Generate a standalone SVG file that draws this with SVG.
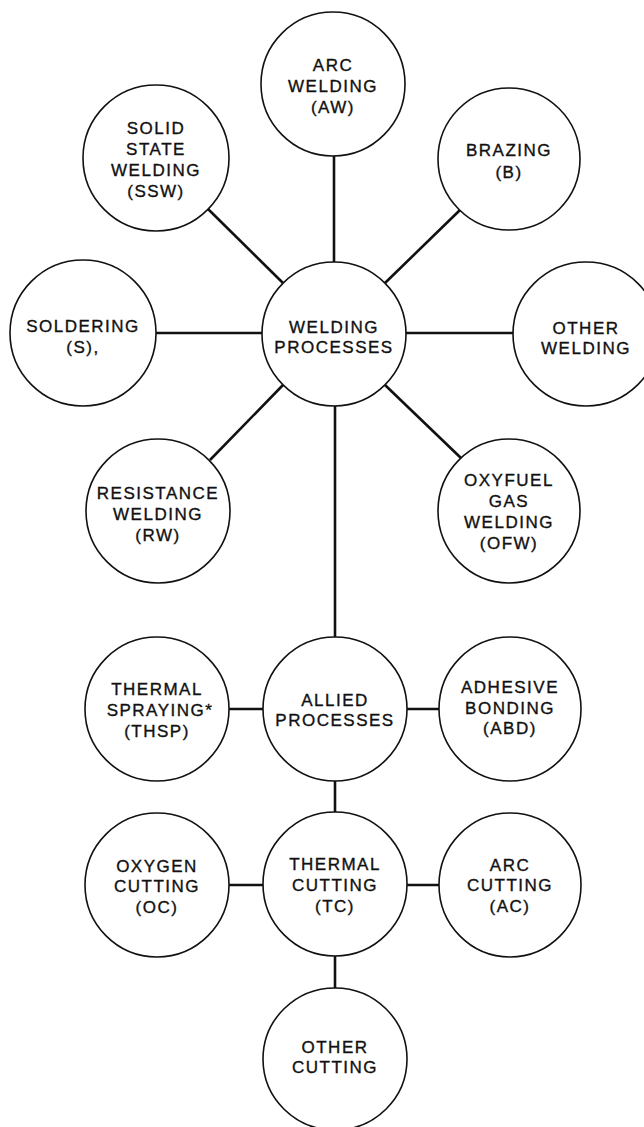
<svg xmlns="http://www.w3.org/2000/svg" width="644" height="1127" viewBox="0 0 644 1127">
<style>
.n ellipse{fill:#fff;stroke:#111;stroke-width:1.6}
.n text{font-family:"Liberation Sans",Arial,sans-serif;font-size:17px;letter-spacing:1.5px;text-anchor:middle;fill:#111;stroke:#111;stroke-width:0.35}
#connectors line{stroke:#111;stroke-width:2.6}
</style>
<rect width="644" height="1127" fill="#fff"/>
<g id="connectors">
<line x1="334" y1="155" x2="334" y2="262"/>
<line x1="207" y1="208" x2="283" y2="283"/>
<line x1="460" y1="210" x2="385" y2="283"/>
<line x1="156" y1="333" x2="262" y2="333"/>
<line x1="406" y1="333" x2="514" y2="333"/>
<line x1="210" y1="460" x2="283" y2="385"/>
<line x1="385" y1="385" x2="462" y2="459"/>
<line x1="335" y1="406" x2="335" y2="637"/>
<line x1="229" y1="709" x2="263" y2="709"/>
<line x1="407" y1="709" x2="440" y2="709"/>
<line x1="335" y1="781" x2="335" y2="813"/>
<line x1="229" y1="885" x2="263" y2="885"/>
<line x1="407" y1="885" x2="440" y2="885"/>
<line x1="335" y1="956" x2="335" y2="988"/>
</g>
<g id="arc-welding" class="n"><ellipse cx="333" cy="84" rx="72" ry="72"/><text x="333" y="71">ARC</text><text x="333" y="92">WELDING</text><text x="333" y="113">(AW)</text></g>
<g id="solid-state-welding" class="n"><ellipse cx="156" cy="158" rx="73" ry="73"/><text x="156" y="134">SOLID</text><text x="156" y="155">STATE</text><text x="156" y="176">WELDING</text><text x="156" y="197">(SSW)</text></g>
<g id="brazing" class="n"><ellipse cx="509" cy="159" rx="71" ry="71"/><text x="509" y="156">BRAZING</text><text x="509" y="178">(B)</text></g>
<g id="soldering" class="n"><ellipse cx="83" cy="333" rx="73" ry="73"/><text x="83" y="332">SOLDERING</text><text x="83" y="353">(S),</text></g>
<g id="welding-processes" class="n"><ellipse cx="334" cy="334" rx="72" ry="72"/><text x="334" y="333">WELDING</text><text x="334" y="353">PROCESSES</text></g>
<g id="other-welding" class="n"><ellipse cx="586" cy="334" rx="73" ry="72"/><text x="586" y="334">OTHER</text><text x="586" y="354">WELDING</text></g>
<g id="resistance-welding" class="n"><ellipse cx="158" cy="511" rx="72" ry="72"/><text x="158" y="499">RESISTANCE</text><text x="158" y="520">WELDING</text><text x="158" y="541">(RW)</text></g>
<g id="oxyfuel-gas-welding" class="n"><ellipse cx="509" cy="511" rx="71" ry="72"/><text x="509" y="486">OXYFUEL</text><text x="509" y="507">GAS</text><text x="509" y="528">WELDING</text><text x="509" y="549">(OFW)</text></g>
<g id="thermal-spraying" class="n"><ellipse cx="157" cy="709" rx="72" ry="72"/><text x="157" y="695">THERMAL</text><text x="160" y="716">SPRAYING*</text><text x="157" y="737">(THSP)</text></g>
<g id="allied-processes" class="n"><ellipse cx="335" cy="709" rx="72" ry="72"/><text x="335" y="706">ALLIED</text><text x="335" y="726">PROCESSES</text></g>
<g id="adhesive-bonding" class="n"><ellipse cx="510" cy="709" rx="71" ry="72"/><text x="510" y="693">ADHESIVE</text><text x="510" y="714">BONDING</text><text x="510" y="734">(ABD)</text></g>
<g id="oxygen-cutting" class="n"><ellipse cx="157" cy="885" rx="72" ry="72"/><text x="157" y="872">OXYGEN</text><text x="157" y="892">CUTTING</text><text x="157" y="913">(OC)</text></g>
<g id="thermal-cutting" class="n"><ellipse cx="335" cy="884" rx="72" ry="72"/><text x="335" y="870">THERMAL</text><text x="335" y="891">CUTTING</text><text x="335" y="912">(TC)</text></g>
<g id="arc-cutting" class="n"><ellipse cx="510" cy="885" rx="71" ry="72"/><text x="510" y="871">ARC</text><text x="510" y="891">CUTTING</text><text x="510" y="912">(AC)</text></g>
<g id="other-cutting" class="n"><ellipse cx="335" cy="1059" rx="72" ry="71"/><text x="335" y="1053">OTHER</text><text x="335" y="1073">CUTTING</text></g>
</svg>
